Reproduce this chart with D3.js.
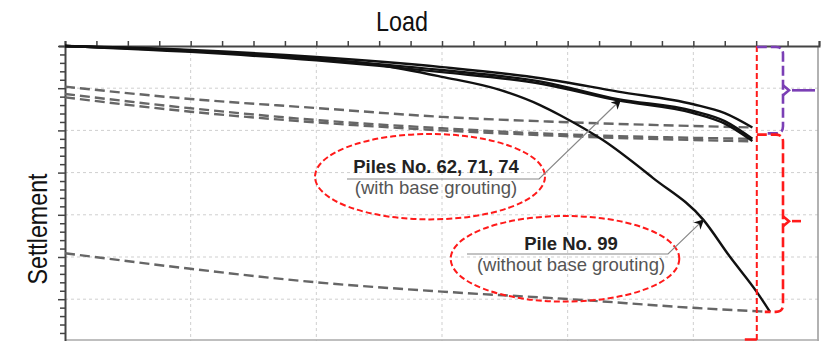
<!DOCTYPE html>
<html>
<head>
<meta charset="utf-8">
<script src="https://cdn.jsdelivr.net/npm/d3@7"></script>
<style>
  body { margin: 0; background: #fff; }
  svg { display: block; }
</style>
</head>
<body>
<script>
// loading curves (load in grid units, settlement in grid units)
var loadX  = [0, 1, 2, 3, 3.8, 4.4, 5, 5.25, 5.47];
var pile62 = [0, 0.095, 0.26, 0.5, 0.77, 1.08, 1.38, 1.59, 1.93];
var pile71 = [0, 0.12, 0.31, 0.57, 0.85, 1.26, 1.54, 1.78, 2.2];
var pile74 = [0, 0.14, 0.34, 0.62, 0.9, 1.29, 1.59, 1.84, 2.25];

var pile99X = [0, 1, 2, 2.5, 3, 3.46, 3.78, 3.94, 4.28, 4.68, 5.08, 5.29, 5.51, 5.61];
var pile99  = [0, 0.11, 0.3, 0.45, 0.73, 1.04, 1.4, 1.64, 2.23, 3.13, 4.12, 4.99, 5.85, 6.3];

// unloading (dashed) curves
var unloadX  = [0, 1, 2, 3, 3.94, 5.47];
var unload62 = [0.964, 1.256, 1.47, 1.68, 1.8, 1.93];
var unload71 = [1.137, 1.476, 1.754, 1.95, 2.09, 2.2];
var unload74 = [1.216, 1.557, 1.81, 2.0, 2.13, 2.26];
var unload99X = [0, 1, 2, 3, 4.02, 5.03, 5.61];
var unload99  = [4.91, 5.28, 5.6, 5.82, 6.0, 6.21, 6.3];

var labelGroup = ["Piles No. 62, 71, 74", "(with base grouting)"];
var labelSingle = ["Pile No. 99", "(without base grouting)"];

var width = 821, height = 341;
var x = d3.scaleLinear().domain([0, 6]).range([65, 819]);
var y = d3.scaleLinear().domain([0, 7]).range([46, 341.4]);

var svg = d3.select("body").append("svg")
            .attr("width", width)
            .attr("height", height);

svg.append("defs").append("marker")
     .attr("id", "arrow")
     .attr("viewBox", "0 0 10 10")
     .attr("refX", 9).attr("refY", 5)
     .attr("markerWidth", 10).attr("markerHeight", 10)
     .attr("markerUnits", "userSpaceOnUse")
     .attr("orient", "auto")
     .append("path")
     .attr("d", "M0,0 L10,5 L0,10 L3,5 Z")
     .attr("fill", "#111");

// grid
svg.selectAll(".vgrid").data(d3.range(1, 6)).enter()
   .append("line")
   .attr("x1", function(d) { return x(d); }).attr("x2", function(d) { return x(d); })
   .attr("y1", y(0)).attr("y2", y(7))
   .attr("stroke", "#cfcfcf").attr("stroke-dasharray", "3,3");
svg.selectAll(".hgrid").data(d3.range(1, 7)).enter()
   .append("line")
   .attr("x1", x(0)).attr("x2", x(6))
   .attr("y1", function(d) { return y(d); }).attr("y2", function(d) { return y(d); })
   .attr("stroke", "#cfcfcf").attr("stroke-dasharray", "3,3");

// frame right / bottom
svg.append("line").attr("x1", x(6) - 1).attr("x2", x(6) - 1).attr("y1", y(0)).attr("y2", 341)
   .attr("stroke", "#999").attr("stroke-width", 1.5);
svg.append("line").attr("x1", x(0)).attr("x2", x(6)).attr("y1", 340).attr("y2", 340)
   .attr("stroke", "#aaa").attr("stroke-width", 1.5);

// axes
var xAxis = d3.axisTop(x).tickValues(d3.range(0, 6.01, 0.25)).tickSize(5).tickFormat("");
var yAxis = d3.axisLeft(y).tickValues(d3.range(0, 7.01, 0.2)).tickSize(6).tickFormat("");

var gx = svg.append("g").attr("transform", "translate(0," + y(0) + ")").call(xAxis);
var gy = svg.append("g").attr("transform", "translate(" + x(0) + ",0)").call(yAxis);
gx.select(".domain").attr("stroke", "#444").attr("stroke-width", 2);
gy.select(".domain").attr("stroke", "#444").attr("stroke-width", 2);
gx.selectAll(".tick line").attr("stroke", "#444").attr("stroke-width", 1.5);
gy.selectAll(".tick line").attr("stroke", "#444").attr("stroke-width", 1.5)
  .attr("x2", function(d) { return Math.abs(d - Math.round(d)) < 0.01 ? -7 : -5; });

// axis titles
svg.append("text")
   .attr("x", 402).attr("y", 31)
   .attr("text-anchor", "middle")
   .attr("font-family", "'Liberation Sans Narrow', 'Arial Narrow', 'Liberation Sans', sans-serif")
   .attr("font-size", 28)
   .attr("textLength", 52).attr("lengthAdjust", "spacingAndGlyphs")
   .attr("fill", "#111")
   .text("Load");
svg.append("text")
   .attr("transform", "translate(46.5,229) rotate(-90)")
   .attr("text-anchor", "middle")
   .attr("font-family", "'Liberation Sans Narrow', 'Arial Narrow', 'Liberation Sans', sans-serif")
   .attr("font-size", 28)
   .attr("textLength", 111).attr("lengthAdjust", "spacingAndGlyphs")
   .attr("fill", "#111")
   .text("Settlement");

function series(xs, ys) {
  return xs.map(function(d, i) { return [d, ys[i]]; });
}
var line = d3.line()
             .x(function(d) { return x(d[0]); })
             .y(function(d) { return y(d[1]); })
             .curve(d3.curveMonotoneX);

// unloading dashed
var dashed = [series(unloadX, unload62), series(unloadX, unload71),
              series(unloadX, unload74), series(unload99X, unload99)];
svg.selectAll(".unload").data(dashed).enter()
   .append("path")
   .attr("d", line)
   .attr("fill", "none")
   .attr("stroke", "#666")
   .attr("stroke-width", 2.4)
   .attr("stroke-dasharray", "10,5");

// loading solid
var solid = [series(loadX, pile62), series(loadX, pile71),
             series(loadX, pile74), series(pile99X, pile99)];
svg.selectAll(".load").data(solid).enter()
   .append("path")
   .attr("d", line)
   .attr("fill", "none")
   .attr("stroke", "#111")
   .attr("stroke-width", 2.4);

// red vertical at end of loading
var xEnd = x(5.505);
svg.append("line").attr("x1", xEnd).attr("x2", xEnd).attr("y1", y(0)).attr("y2", 341)
   .attr("stroke", "#ff1a1a").attr("stroke-width", 2).attr("stroke-dasharray", "6,3");
svg.append("line").attr("x1", xEnd - 12).attr("x2", xEnd).attr("y1", 339.5).attr("y2", 339.5)
   .attr("stroke", "#ff1a1a").attr("stroke-width", 2.5);

// braces
function brace(top, bottom, mid, tip, color) {
  var bx = 783;
  svg.append("path")
     .attr("d", "M" + xEnd + "," + top + " H" + (bx - 7) + " Q" + bx + "," + top + " " + bx + "," + (top + 7) +
                " V" + (bottom - 7) + " Q" + bx + "," + bottom + " " + (bx - 7) + "," + bottom + " H" + (xEnd + 8))
     .attr("fill", "none").attr("stroke", color).attr("stroke-width", 2.6)
     .attr("stroke-dasharray", "10,4");
  svg.append("path")
     .attr("d", "M" + bx + "," + (mid - 5) + " L" + (bx + 6) + "," + mid + " L" + bx + "," + (mid + 5))
     .attr("fill", "none").attr("stroke", color).attr("stroke-width", 2.6);
  svg.append("line")
     .attr("x1", bx + 9).attr("x2", tip).attr("y1", mid).attr("y2", mid)
     .attr("stroke", color).attr("stroke-width", 2.6);
}
brace(y(0) + 1, y(2.07), y(1.05), 815, "#7b3fb5");
brace(y(2.1), y(6.3), y(4.15), 801, "#ff1a1a");

// annotations
function note(cx, cy, rx, ry, labels, lineY, lineX1, lineX2, tx, ty, baseY) {
  svg.append("ellipse")
     .attr("cx", cx).attr("cy", cy).attr("rx", rx).attr("ry", ry)
     .attr("fill", "none").attr("stroke", "#ff1a1a")
     .attr("stroke-width", 2).attr("stroke-dasharray", "6,3");
  svg.append("path")
     .attr("d", "M" + lineX1 + "," + lineY + " H" + lineX2 + " L" + tx + "," + ty)
     .attr("fill", "none").attr("stroke", "#888").attr("stroke-width", 1.2)
     .attr("marker-end", "url(#arrow)");
  svg.append("text")
     .attr("x", cx + 6).attr("y", baseY)
     .attr("text-anchor", "middle")
     .attr("font-family", "'Liberation Sans', Arial, sans-serif")
     .attr("font-weight", "bold").attr("font-size", 18.5)
     .attr("fill", "#222")
     .text(labels[0]);
  svg.append("text")
     .attr("x", cx + 6).attr("y", baseY + 21)
     .attr("text-anchor", "middle")
     .attr("font-family", "'Liberation Sans', Arial, sans-serif")
     .attr("font-size", 18.5)
     .attr("fill", "#555")
     .text(labels[1]);
}
note(430, 176.7, 115, 42.7, labelGroup, 179, 347, 539, x(4.42), y(1.28), 173);
note(565, 258.8, 114.3, 42.8, labelSingle, 254, 467, 668, x(5.08), y(4.12), 249.5);
</script>
</body>
</html>
